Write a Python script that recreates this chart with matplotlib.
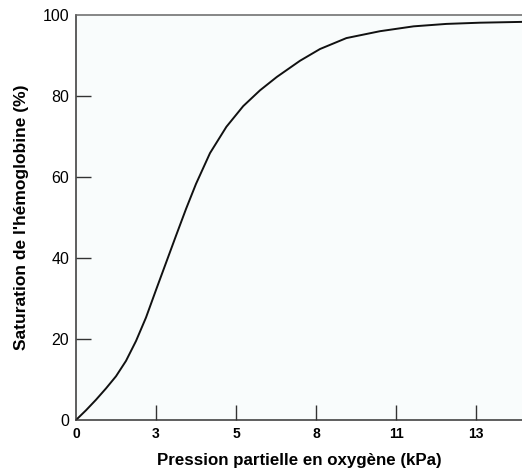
import matplotlib

matplotlib.use("Agg")

import matplotlib.pyplot as plt
import numpy as np

# Tick labels of the x axis are evenly spaced in the original figure,
# so the curve is expressed in tick-slot units (0 = "0", 5 = "13").
x_tick_labels = ["0", "3", "5", "8", "11", "13"]
y_ticks = [0, 20, 40, 60, 80, 100]

# Oxygen dissociation curve
curve_pos = [0, 0.125, 0.25, 0.375, 0.5, 0.625, 0.75, 0.875, 1.0, 1.125,
             1.25, 1.375, 1.5, 1.675, 1.88, 2.09, 2.3, 2.51, 2.8, 3.05,
             3.38, 3.8, 4.22, 4.63, 5.05, 5.575]
curve_sat = [0, 2.4, 5.0, 7.8, 10.8, 14.6, 19.5, 25.3, 32.1, 38.8,
             45.5, 52.1, 58.3, 65.9, 72.4, 77.5, 81.4, 84.7, 88.7, 91.6,
             94.3, 96.0, 97.2, 97.8, 98.1, 98.3]

plt.rcParams["font.family"] = ["Liberation Sans", "DejaVu Sans"]

fig = plt.figure(figsize=(5.22, 4.71), dpi=100)
fig.patch.set_facecolor("white")
ax = fig.add_axes([76 / 522, 51 / 471, 1 - 76 / 522, 405 / 471])
ax.set_facecolor("#f9fcfc")

ax.plot(curve_pos, curve_sat, color="#111111", lw=1.4,
        solid_capstyle="round", solid_joinstyle="round")

ax.set_xlim(0, 5.575)
ax.set_ylim(0, 100)

ax.set_xticks(np.arange(len(x_tick_labels)))
ax.set_xticklabels(x_tick_labels, fontsize=10, fontweight="bold")
ax.set_yticks(y_ticks)
ax.set_yticklabels([str(v) for v in y_ticks], fontsize=11.5)

ax.tick_params(axis="both", direction="in", length=11, width=1, color="#333333")
ax.tick_params(axis="x", pad=5)
ax.tick_params(axis="y", pad=5)
# the 0 / 100 ticks coincide with spines in the original
ax.xaxis.get_major_ticks()[0].tick1line.set_visible(False)
ax.yaxis.get_major_ticks()[0].tick1line.set_visible(False)
ax.yaxis.get_major_ticks()[-1].tick1line.set_visible(False)

ax.spines["right"].set_visible(False)
ax.spines["top"].set_color("#666666")
ax.spines["left"].set_color("#333333")
ax.spines["bottom"].set_color("#333333")
for s in ("top", "left", "bottom"):
    ax.spines[s].set_linewidth(1.1)

ax.set_xlabel("Pression partielle en oxygène (kPa)", fontsize=12.2,
              fontweight="bold", labelpad=9)
ax.set_ylabel("Saturation de l'hémoglobine (%)", fontsize=12.5,
              fontweight="bold", labelpad=10)

fig.savefig("out.png", dpi=100)
